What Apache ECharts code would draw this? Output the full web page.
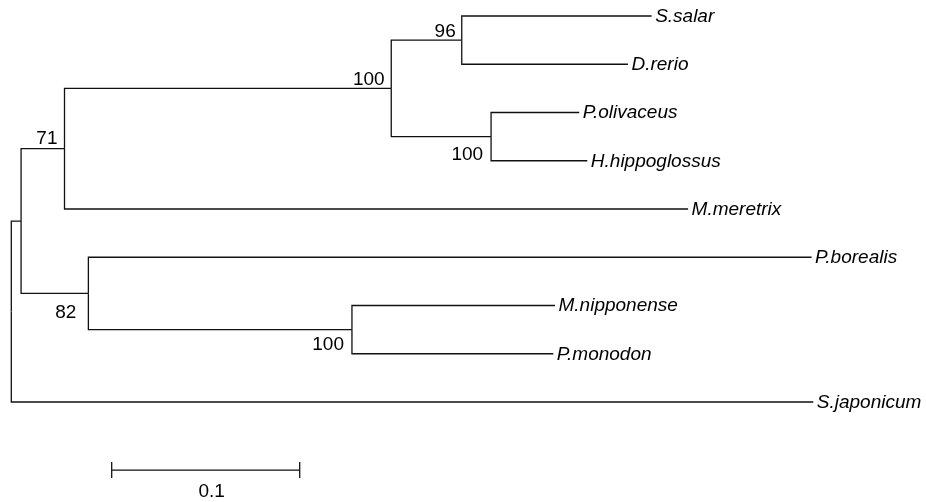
<!DOCTYPE html>
<html><head><meta charset="utf-8">
<script src="https://cdn.jsdelivr.net/npm/echarts@6/dist/echarts.min.js"></script>
<style>html,body{margin:0;padding:0;background:#fff}#c{width:926px;height:502px}</style>
</head><body><div id="c"></div>
<script>
// ---- data (branch lengths, substitutions per site) ----
const taxa = ['S.salar','D.rerio','P.olivaceus','H.hippoglossus','M.meretrix','P.borealis','M.nipponense','P.monodon','S.japonicum'];
const taxaParent = ['n96','n96','nFlat','nFlat','n71','n82','nShrimp','nShrimp','root'];
const taxaBranch = [0.1010,0.0884,0.0469,0.0512,0.3317,0.3847,0.1080,0.1071,0.4266];
const innerNodes = ['root','nA','n71','nFish','n96','nFlat','n82','nShrimp'];
const innerParent = [null,'root','nA','n71','nFish','nFish','nA','n82'];
const innerBranch = [0,0.0052,0.0231,0.1738,0.0375,0.0531,0.0358,0.1402];
const bootstrap = [null,null,71,100,96,100,82,100];
const scaleBarLength = 0.1;
const scaleBarLabel = '0.1';

// ---- styles ----
const bootstrapOffset = [null,null,[-7,-10],[-6.6,-9],[-6,-8.6],[-8,18],[-12,19.6],[-8,14.7]];
const scaleBarStart = 0.0534, scaleBarRow = 9.41;
const FONT = '"Liberation Sans", Arial, Helvetica, sans-serif';
const LINE = '#111';

// ---- build tree geometry ----
const nodes = {};
taxa.forEach((t,i)=>{ nodes[t] = {parent:taxaParent[i], len:taxaBranch[i], leaf:true, row:i}; });
innerNodes.forEach((n,i)=>{ nodes[n] = {parent:innerParent[i], len:innerBranch[i], leaf:false}; });
function depth(id){ const n = nodes[id]; if (n.x !== undefined) return n.x; n.x = n.len + (n.parent ? depth(n.parent) : 0); return n.x; }
function row(id){ const n = nodes[id]; if (n.row !== undefined) return n.row;
  const kids = Object.keys(nodes).filter(k=>nodes[k].parent===id);
  n.row = kids.reduce((s,k)=>s+row(k),0)/kids.length; return n.row; }
Object.keys(nodes).forEach(k=>{depth(k); row(k);});

const branchData = Object.keys(nodes).filter(k=>nodes[k].parent).map(k=>{
  const p = nodes[nodes[k].parent]; return [p.x, p.row, nodes[k].x, nodes[k].row];
});
const tipData = taxa.map(t=>[nodes[t].x, nodes[t].row, t]);
const bootData = innerNodes.map((n,i)=>[nodes[n].x, nodes[n].row, bootstrap[i], i]).filter(d=>d[2]!=null);

const chart = echarts.init(document.getElementById('c'), null, {renderer:'canvas'});
chart.setOption({
  animation:false,
  backgroundColor:'#fff',
  grid:{left:11.3, width:902.4, top:16, height:482.5},
  xAxis:{type:'value', min:0, max:0.48, show:false},
  yAxis:{type:'value', min:0, max:10, inverse:true, show:false},
  series:[
    {type:'custom', data:branchData, clip:false, silent:true,
     renderItem:(params, api)=>{
       const a = api.coord([api.value(0), api.value(1)]);
       const b = api.coord([api.value(0), api.value(3)]);
       const c = api.coord([api.value(2), api.value(3)]);
       return {type:'polyline', shape:{points:[a,b,c]}, style:{stroke:LINE, lineWidth:1.3, fill:null}};
     }},
    {type:'custom', data:tipData, clip:false, silent:true,
     renderItem:(params, api)=>{
       const p = api.coord([api.value(0), api.value(1)]);
       return {type:'text', style:{text:tipData[params.dataIndex][2], x:p[0]+3.5, y:p[1]+0.5,
         align:'left', verticalAlign:'middle', font:'italic 19px '+FONT, fill:'#000'}};
     }},
    {type:'custom', data:bootData, clip:false, silent:true,
     renderItem:(params, api)=>{
       const d = bootData[params.dataIndex];
       const p = api.coord([d[0], d[1]]);
       const off = bootstrapOffset[d[3]];
       return {type:'text', style:{text:String(d[2]), x:p[0]+off[0], y:p[1]+off[1],
         align:'right', verticalAlign:'middle', font:'19px '+FONT, fill:'#000'}};
     }},
    {type:'custom', data:[[scaleBarStart, scaleBarRow, scaleBarStart+scaleBarLength]], clip:false, silent:true,
     renderItem:(params, api)=>{
       const a = api.coord([api.value(0), api.value(1)]);
       const b = api.coord([api.value(2), api.value(1)]);
       const st = {stroke:LINE, lineWidth:1.3};
       return {type:'group', children:[
         {type:'line', shape:{x1:a[0], y1:a[1], x2:b[0], y2:b[1]}, style:st},
         {type:'line', shape:{x1:a[0], y1:a[1]-8, x2:a[0], y2:a[1]+8}, style:st},
         {type:'line', shape:{x1:b[0], y1:b[1]-8, x2:b[0], y2:b[1]+8}, style:st},
         {type:'text', style:{text:scaleBarLabel, x:(a[0]+b[0])/2+6, y:a[1]+22, align:'center', verticalAlign:'middle', font:'19px '+FONT, fill:'#000'}}
       ]};
     }}
  ]
});
</script></body></html>
